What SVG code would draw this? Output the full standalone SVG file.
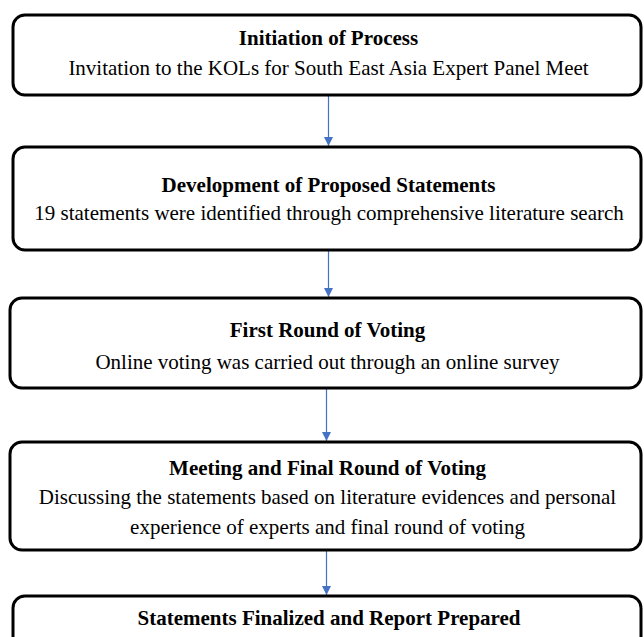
<svg xmlns="http://www.w3.org/2000/svg" width="644" height="637" viewBox="0 0 644 637">
  <defs>
    <style>
      .box { fill: #ffffff; stroke: #000000; stroke-width: 3; }
      .title { font-family: "Liberation Serif", "Times New Roman", serif; font-size: 21px; font-weight: bold; fill: #000; text-anchor: middle; }
      .sub { font-family: "Liberation Serif", "Times New Roman", serif; font-size: 21px; fill: #000; text-anchor: middle; }
      .conn { stroke: #4472C4; stroke-width: 1.2; fill: none; }
    </style>
    <marker id="arr" viewBox="0 0 10 10" refX="10" refY="5" markerWidth="9" markerHeight="9" markerUnits="userSpaceOnUse" orient="auto">
      <path d="M0,0 L10,5 L0,10 Z" fill="#4472C4"/>
    </marker>
  </defs>
  <rect width="644" height="637" fill="#ffffff"/>
  <g id="connectors">
    <line class="conn" x1="328.5" y1="96" x2="328.5" y2="146" marker-end="url(#arr)"/>
    <line class="conn" x1="328.5" y1="251" x2="328.5" y2="297" marker-end="url(#arr)"/>
    <line class="conn" x1="326.5" y1="389" x2="326.5" y2="441" marker-end="url(#arr)"/>
    <line class="conn" x1="326.5" y1="551" x2="326.5" y2="595" marker-end="url(#arr)"/>
  </g>
  <g id="node1">
    <rect class="box" x="13" y="15" width="628" height="80" rx="12"/>
    <text class="title" x="328.5" y="45">Initiation of Process</text>
    <text class="sub" x="328.5" y="75">Invitation to the KOLs for South East Asia Expert Panel Meet</text>
  </g>
  <g id="node2">
    <rect class="box" x="13" y="147" width="628" height="103" rx="12"/>
    <text class="title" x="328.5" y="192">Development of Proposed Statements</text>
    <text class="sub" x="329" y="220">19 statements were identified through comprehensive literature search</text>
  </g>
  <g id="node3">
    <rect class="box" x="10" y="298" width="631" height="90" rx="12"/>
    <text class="title" x="327.5" y="337">First Round of Voting</text>
    <text class="sub" x="327.5" y="369">Online voting was carried out through an online survey</text>
  </g>
  <g id="node4">
    <rect class="box" x="10" y="442" width="631" height="108" rx="12"/>
    <text class="title" x="327.5" y="475">Meeting and Final Round of Voting</text>
    <text class="sub" x="327.5" y="504">Discussing the statements based on literature evidences and personal</text>
    <text class="sub" x="327.5" y="534">experience of experts and final round of voting</text>
  </g>
  <g id="node5">
    <rect class="box" x="13" y="596" width="628" height="60" rx="12"/>
    <text class="title" x="329" y="625">Statements Finalized and Report Prepared</text>
  </g>
</svg>
